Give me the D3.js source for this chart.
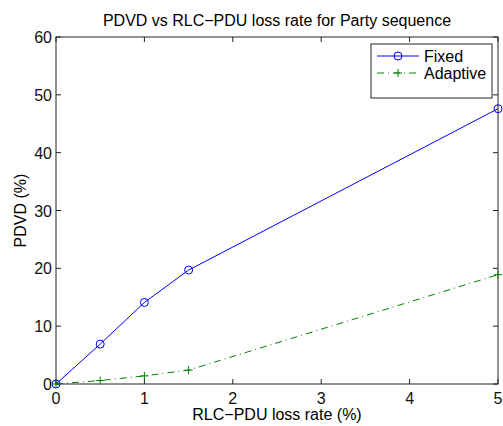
<!DOCTYPE html>
<html>
<head>
<meta charset="utf-8">
<script src="https://cdn.jsdelivr.net/npm/d3@7"></script>
<style>
  body { margin: 0; background: #fff; }
  text { font-family: "Liberation Sans", Arial, sans-serif; }
</style>
</head>
<body>
<div id="chart"></div>
<script>
// data
const lossRate = [0, 0.5, 1, 1.5, 5];
const fixedPdvd = [0, 6.9, 14.1, 19.7, 47.6];
const adaptivePdvd = [0, 0.6, 1.4, 2.4, 18.9];
const xTicks = [0, 1, 2, 3, 4, 5];
const yTicks = [0, 10, 20, 30, 40, 50, 60];

const width = 503, height = 426;
const margin = {left: 56, right: 5, top: 37, bottom: 42};
const fs = "16px";
const svg = d3.select("#chart").append("svg")
  .attr("width", width).attr("height", height);

const x = d3.scaleLinear().domain([0, 5]).range([margin.left, width - margin.right]);
const y = d3.scaleLinear().domain([0, 60]).range([height - margin.bottom, margin.top]);

// box
svg.append("rect")
  .attr("x", x(0)).attr("y", y(60))
  .attr("width", x(5) - x(0)).attr("height", y(0) - y(60))
  .attr("fill", "none").attr("stroke", "#222").attr("stroke-width", 1);

// ticks (inside, all four sides)
const tl = 5;
const g = svg.append("g").attr("stroke", "#222").attr("stroke-width", 1);
xTicks.forEach(t => {
  g.append("line").attr("x1", x(t)).attr("x2", x(t)).attr("y1", y(0)).attr("y2", y(0) - tl);
  g.append("line").attr("x1", x(t)).attr("x2", x(t)).attr("y1", y(60)).attr("y2", y(60) + tl);
});
yTicks.forEach(t => {
  g.append("line").attr("x1", x(0)).attr("x2", x(0) + tl).attr("y1", y(t)).attr("y2", y(t));
  g.append("line").attr("x1", x(5)).attr("x2", x(5) - tl).attr("y1", y(t)).attr("y2", y(t));
});

// tick labels
svg.selectAll(".xl").data(xTicks).enter().append("text")
  .attr("x", d => x(d)).attr("y", y(0) + 20)
  .attr("text-anchor", "middle").style("font-size", fs).attr("fill", "#111")
  .text(d => d);
svg.selectAll(".yl").data(yTicks).enter().append("text")
  .attr("x", x(0) - 4).attr("y", d => y(d) + 6)
  .attr("text-anchor", "end").style("font-size", fs).attr("fill", "#111")
  .text(d => d);

// titles
svg.append("text").attr("x", 277).attr("y", 26).attr("text-anchor", "middle")
  .style("font-size", fs).text("PDVD vs RLC\u2212PDU loss rate for Party sequence");
svg.append("text").attr("x", x(2.5)).attr("y", 420).attr("text-anchor", "middle")
  .style("font-size", fs).text("RLC\u2212PDU loss rate (%)");
svg.append("text").attr("transform", `translate(26,${y(30)}) rotate(-90)`)
  .attr("text-anchor", "middle").style("font-size", fs).text("PDVD (%)");

const line = d3.line().x(d => x(d[0])).y(d => y(d[1]));
const fixedPts = lossRate.map((r, i) => [r, fixedPdvd[i]]);
const adaptPts = lossRate.map((r, i) => [r, adaptivePdvd[i]]);

// Fixed
svg.append("path").datum(fixedPts).attr("d", line)
  .attr("fill", "none").attr("stroke", "#0000ff").attr("stroke-width", 1);
svg.selectAll(".fm").data(fixedPts).enter().append("circle")
  .attr("cx", d => x(d[0])).attr("cy", d => y(d[1])).attr("r", 4)
  .attr("fill", "none").attr("stroke", "#0000ff").attr("stroke-width", 1);

// Adaptive
const green = "#008000";
svg.append("path").datum(adaptPts).attr("d", line)
  .attr("fill", "none").attr("stroke", green).attr("stroke-width", 1)
  .attr("stroke-dasharray", "7,4,1,4");
const plus = (sel, cx, cy, s) => {
  sel.append("line").attr("x1", cx - s).attr("x2", cx + s).attr("y1", cy).attr("y2", cy);
  sel.append("line").attr("x1", cx).attr("x2", cx).attr("y1", cy - s).attr("y2", cy + s);
};
const pg = svg.append("g").attr("stroke", green).attr("stroke-width", 1);
adaptPts.forEach(d => plus(pg, x(d[0]), y(d[1]), 4));

// legend
const lg = svg.append("g");
lg.append("rect").attr("x", 371).attr("y", 44).attr("width", 121).attr("height", 54)
  .attr("fill", "#fff").attr("stroke", "#222").attr("stroke-width", 1);
lg.append("line").attr("x1", 377).attr("x2", 419).attr("y1", 56).attr("y2", 56)
  .attr("stroke", "#0000ff");
lg.append("circle").attr("cx", 398).attr("cy", 56).attr("r", 4)
  .attr("fill", "none").attr("stroke", "#0000ff");
lg.append("text").attr("x", 424).attr("y", 62).style("font-size", fs).text("Fixed");
lg.append("line").attr("x1", 377).attr("x2", 419).attr("y1", 73).attr("y2", 73)
  .attr("stroke", green).attr("stroke-dasharray", "7,4,1,4");
const lp = lg.append("g").attr("stroke", green);
plus(lp, 398, 73, 4);
lg.append("text").attr("x", 424).attr("y", 79).style("font-size", fs).text("Adaptive");
</script>
</body>
</html>
